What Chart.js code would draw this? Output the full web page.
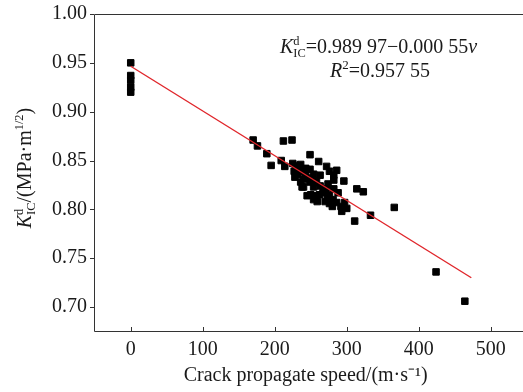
<!DOCTYPE html>
<html>
<head>
<meta charset="utf-8">
<script src="https://cdn.jsdelivr.net/npm/chart.js@4.4.0/dist/chart.umd.min.js"></script>
<style>
  html, body { margin: 0; padding: 0; background: #fff; overflow: hidden; }
  #wrap { width: 523px; height: 392px; }
  canvas { display: block; }
</style>
</head>
<body>
<div id="wrap"><canvas id="c" width="523" height="392"></canvas></div>
<script>
// crack speed (m/s) and dynamic toughness (MPa m^1/2)
const speed = [0, 0, 0, 0, 0,
  170, 176, 189, 195, 212, 224, 209, 214, 249, 261, 272, 276, 286, 282, 296,
  314, 323, 311, 333, 366, 424, 464,
  225, 229, 234, 227, 232, 238, 243, 247, 240, 236, 249, 254, 258, 263, 240,
  245, 254, 258, 267, 272, 276, 281, 286, 276, 292, 297, 288, 274, 263, 254,
  249, 243, 236, 282, 293, 300, 280, 259, 250, 238, 254, 268, 273, 282, 228,
  262, 270];
const toughness = [0.950, 0.937, 0.932, 0.925, 0.920,
  0.871, 0.865, 0.857, 0.845, 0.870, 0.871, 0.850, 0.844, 0.856, 0.849, 0.844, 0.839, 0.840, 0.830, 0.829,
  0.821, 0.818, 0.788, 0.794, 0.802, 0.736, 0.706,
  0.847, 0.845, 0.842, 0.839, 0.836, 0.839, 0.836, 0.832, 0.831, 0.828, 0.828, 0.829, 0.828, 0.824, 0.823,
  0.814, 0.810, 0.814, 0.817, 0.820, 0.814, 0.810, 0.807, 0.806, 0.803, 0.807, 0.817, 0.826, 0.835, 0.836,
  0.841, 0.842, 0.846, 0.835, 0.798, 0.801, 0.803, 0.808, 0.815, 0.823, 0.823, 0.821, 0.813, 0.821, 0.833,
  0.815, 0.808];

// fitted line as drawn
const fitX = [0, 473];
const fitY = [0.9465, 0.730];

const xTicks = [0, 100, 200, 300, 400, 500];
const yTicks = [0.70, 0.75, 0.80, 0.85, 0.90, 0.95, 1.00];

const FONT = "'Liberation Serif', 'Times New Roman', serif";
const INK = '#1a1a1a';

// draws text pieces with sup/sub parts
function richWidth(ctx, parts, size) {
  let w = 0;
  parts.forEach(p => {
    if (p.sup || p.sub) {
      ctx.font = (size * 0.62) + 'px ' + FONT;
      w += Math.max(p.sup ? ctx.measureText(p.sup).width : 0, p.sub ? ctx.measureText(p.sub).width : 0);
    } else {
      ctx.font = (p.it ? 'italic ' : '') + size + 'px ' + FONT;
      w += ctx.measureText(p.t).width;
    }
  });
  return w;
}
function drawRich(ctx, parts, x, y, size) {
  parts.forEach(p => {
    if (p.sup || p.sub) {
      ctx.font = (size * 0.62) + 'px ' + FONT;
      let w = 0;
      if (p.sup) { ctx.fillText(p.sup, x, y - size * 0.42); w = ctx.measureText(p.sup).width; }
      if (p.sub) { ctx.fillText(p.sub, x, y + size * 0.2); w = Math.max(w, ctx.measureText(p.sub).width); }
      x += w;
    } else {
      ctx.font = (p.it ? 'italic ' : '') + size + 'px ' + FONT;
      ctx.fillText(p.t, x, y);
      x += ctx.measureText(p.t).width;
    }
  });
}

const decor = {
  id: 'decor',
  afterDraw(chart) {
    const ctx = chart.ctx;
    const a = chart.chartArea;
    const xs = chart.scales.x, ys = chart.scales.y;
    ctx.save();
    ctx.strokeStyle = '#333';
    ctx.lineWidth = 1;
    ctx.beginPath();
    // top, left, bottom frame (right side runs off the picture)
    ctx.moveTo(chart.width, a.top + 0.5); ctx.lineTo(a.left + 0.5, a.top + 0.5);
    ctx.lineTo(a.left + 0.5, a.bottom + 0.5); ctx.lineTo(chart.width, a.bottom + 0.5);
    xTicks.forEach(v => {
      const px = Math.round(xs.getPixelForValue(v)) + 0.5;
      ctx.moveTo(px, a.bottom); ctx.lineTo(px, a.bottom - 4);
    });
    yTicks.forEach(v => {
      const py = Math.round(ys.getPixelForValue(v)) + 0.5;
      ctx.moveTo(a.left, py); ctx.lineTo(a.left - 4, py);
    });
    ctx.stroke();

    ctx.fillStyle = INK;
    ctx.textBaseline = 'alphabetic';
    ctx.textAlign = 'left';
    // y axis title, rotated
    const yParts = [{ t: 'K', it: true }, { sup: 'd', sub: 'IC' }, { t: '/(MPa·m' }, { sup: '1/2' }, { t: ')' }];
    const w = richWidth(ctx, yParts, 20);
    ctx.save();
    ctx.translate(31, 168);
    ctx.rotate(-Math.PI / 2);
    drawRich(ctx, yParts, -w / 2, 0, 20);
    ctx.restore();

    // fit equation
    drawRich(ctx, [{ t: 'K', it: true }, { sup: 'd', sub: 'IC' }, { t: '=0.989 97−0.000 55' }, { t: 'v', it: true }], 280, 53, 20);
    ctx.font = 'italic 20px ' + FONT;
    ctx.fillText('R', 330, 77);
    const rw = ctx.measureText('R').width;
    ctx.font = '13px ' + FONT;
    ctx.fillText('2', 330 + rw, 69);
    const tw = ctx.measureText('2').width;
    ctx.font = '20px ' + FONT;
    ctx.fillText('=0.957 55', 330 + rw + tw, 77);
    ctx.restore();
  }
};

new Chart(document.getElementById('c'), {
  data: {
    datasets: [{
      type: 'line',
      data: fitX.map((x, i) => ({ x: x, y: fitY[i] })),
      borderColor: '#e0262b',
      borderWidth: 1.4,
      pointRadius: 0,
      fill: false,
      order: 0
    }, {
      type: 'scatter',
      data: speed.map((x, i) => ({ x: x, y: toughness[i] })),
      pointStyle: 'rect',
      pointRadius: 4.6,
      backgroundColor: '#000',
      borderColor: '#000',
      borderWidth: 1,
      order: 1
    }]
  },
  options: {
    responsive: false,
    animation: false,
    devicePixelRatio: 1,
    layout: { padding: { top: 14, right: 0, left: 0, bottom: 0 } },
    plugins: { legend: { display: false }, tooltip: { enabled: false } },
    scales: {
      x: {
        type: 'linear',
        min: -51, max: 537,
        grid: { display: false, drawTicks: false },
        border: { display: false },
        afterBuildTicks: s => { s.ticks = xTicks.map(v => ({ value: v })); },
        afterFit: s => { s.height = 61; s.paddingLeft = 0; s.paddingRight = 0; },
        ticks: { color: INK, font: { family: FONT, size: 20 }, padding: 7, maxRotation: 0 },
        title: { display: true, text: 'Crack propagate speed/(m·s⁻¹)', color: INK, font: { family: FONT, size: 20 }, padding: { top: 0, bottom: 4 } }
      },
      y: {
        min: 0.6755, max: 1.0,
        grid: { display: false, drawTicks: false },
        border: { display: false },
        afterBuildTicks: s => { s.ticks = yTicks.map(v => ({ value: v })); },
        afterFit: s => { s.width = 94; s.paddingTop = 0; s.paddingBottom = 0; },
        ticks: { color: INK, font: { family: FONT, size: 20 }, padding: 7, callback: v => v.toFixed(2) }
      }
    }
  },
  plugins: [decor]
});
</script>
</body>
</html>
